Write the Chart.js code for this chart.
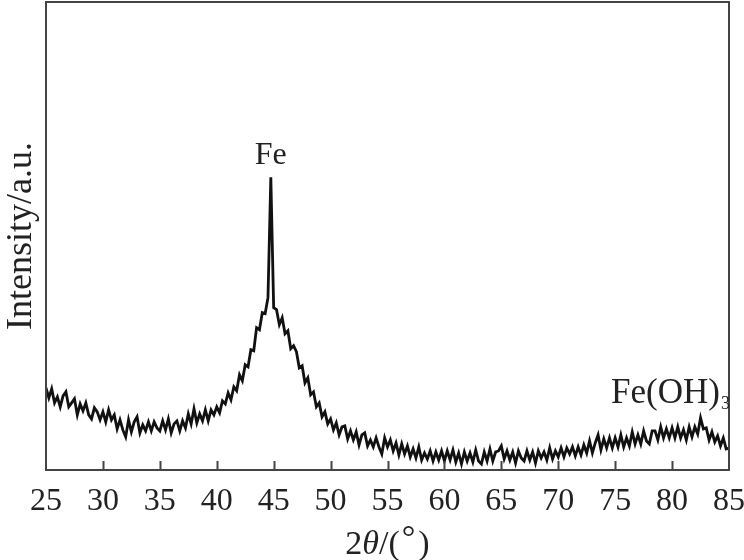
<!DOCTYPE html>
<html>
<head>
<meta charset="utf-8">
<script src="https://cdn.jsdelivr.net/npm/chart.js@4"></script>
<style>
  html, body { margin: 0; padding: 0; background: #fff; }
  #wrap { width: 744px; height: 560px; }
</style>
</head>
<body>
<div id="wrap"><canvas id="xrd"></canvas></div>
<script>
// 2theta positions (deg), 0.25 deg sampling
const twoTheta = [
  25,25.25,25.5,25.75,26,26.25,26.5,26.75,27,27.25,27.5,27.75,28,28.25,28.5,28.75,29,29.25,29.5,29.75,
  30,30.25,30.5,30.75,31,31.25,31.5,31.75,32,32.25,32.5,32.75,33,33.25,33.5,33.75,34,34.25,34.5,34.75,
  35,35.25,35.5,35.75,36,36.25,36.5,36.75,37,37.25,37.5,37.75,38,38.25,38.5,38.75,39,39.25,39.5,39.75,
  40,40.25,40.5,40.75,41,41.25,41.5,41.75,42,42.25,42.5,42.75,43,43.25,43.5,43.75,44,44.25,44.5,44.75,
  45,45.25,45.5,45.75,46,46.25,46.5,46.75,47,47.25,47.5,47.75,48,48.25,48.5,48.75,49,49.25,49.5,49.75,
  50,50.25,50.5,50.75,51,51.25,51.5,51.75,52,52.25,52.5,52.75,53,53.25,53.5,53.75,54,54.25,54.5,54.75,
  55,55.25,55.5,55.75,56,56.25,56.5,56.75,57,57.25,57.5,57.75,58,58.25,58.5,58.75,59,59.25,59.5,59.75,
  60,60.25,60.5,60.75,61,61.25,61.5,61.75,62,62.25,62.5,62.75,63,63.25,63.5,63.75,64,64.25,64.5,64.75,
  65,65.25,65.5,65.75,66,66.25,66.5,66.75,67,67.25,67.5,67.75,68,68.25,68.5,68.75,69,69.25,69.5,69.75,
  70,70.25,70.5,70.75,71,71.25,71.5,71.75,72,72.25,72.5,72.75,73,73.25,73.5,73.75,74,74.25,74.5,74.75,
  75,75.25,75.5,75.75,76,76.25,76.5,76.75,77,77.25,77.5,77.75,78,78.25,78.5,78.75,79,79.25,79.5,79.75,
  80,80.25,80.5,80.75,81,81.25,81.5,81.75,82,82.25,82.5,82.75,83,83.25,83.5,83.75,84,84.25,84.5,84.75,
  85
];

// intensity (a.u.)
const intensity = [
  82,72,81,67,73,63,74,78,63,67,71,55,66,59,67,55,51,62,58,50,
  58,48,60,50,55,41,50,40,33,50,38,48,53,37,45,39,48,39,48,42,
  39,49,40,51,37,46,49,39,49,42,56,46,61,47,56,49,60,49,60,55,
  63,57,69,66,77,70,83,79,95,89,105,103,120,119,142,140,157,156,172,292,
  162,160,145,152,136,139,121,124,118,102,104,87,92,75,78,63,67,53,58,46,
  51,40,47,35,43,44,31,39,30,38,25,35,37,24,30,23,32,23,16,32,
  23,30,19,27,15,26,16,24,13,21,12,23,10,17,11,19,9,18,10,19,
  9,19,10,20,8,17,6,18,9,17,8,20,9,6,18,9,21,9,18,19,
  24,11,19,10,18,7,19,12,9,19,10,18,7,19,12,18,10,22,11,19,
  13,22,13,22,16,23,14,23,15,25,17,29,17,27,35,20,31,22,32,22,
  32,23,35,23,32,24,38,26,35,26,39,29,26,39,39,30,43,32,41,32,
  42,32,43,32,40,30,43,33,43,36,52,41,42,30,38,28,34,24,32,21,
  22
];

const xTicks = [25, 30, 35, 40, 45, 50, 55, 60, 65, 70, 75, 80, 85];
const yRange = [0, 467];

const serif = "'Liberation Serif', 'DejaVu Serif', serif";

// frame, inward ticks, peak labels and the x title (with italic theta)
const decor = {
  id: "decor",
  afterDraw(chart) {
    const { ctx, chartArea: a, scales } = chart;
    const x = scales.x, y = scales.y;
    ctx.save();
    ctx.strokeStyle = "#444";
    ctx.lineWidth = 2;
    ctx.strokeRect(a.left, a.top, a.right - a.left, a.bottom - a.top);
    ctx.beginPath();
    xTicks.slice(1, -1).forEach((v) => {
      const px = Math.round(x.getPixelForValue(v)) + 0.5;
      ctx.moveTo(px, a.bottom);
      ctx.lineTo(px, a.bottom - 9);
    });
    ctx.stroke();

    ctx.fillStyle = "#222";
    ctx.font = "32px " + serif;
    ctx.textBaseline = "alphabetic";
    ctx.textAlign = "center";
    ctx.fillText("Fe", x.getPixelForValue(44.75), y.getPixelForValue(292) - 13);

    ctx.font = "35px " + serif;
    ctx.textAlign = "right";
    const fx = x.getPixelForValue(84.2);
    const fy = y.getPixelForValue(67);
    ctx.fillText("Fe(OH)", fx, fy);
    ctx.font = "18px " + serif;
    ctx.textAlign = "left";
    ctx.fillText("3", fx + 1, fy + 6);

    // x title: 2θ/(°)
    const size = "34px ";
    const parts = [
      ["2", size + serif],
      ["θ", "italic " + size + serif],
      ["/(", size + serif],
      ["°", size + serif],
      [")", size + serif],
    ];
    let w = 0;
    parts.forEach(([t, f]) => { ctx.font = f; w += ctx.measureText(t).width + (t === "°" ? 5 : 0); });
    let cx = (a.left + a.right) / 2 - w / 2;
    const by = 554;
    parts.forEach(([t, f]) => {
      ctx.font = f;
      ctx.fillText(t, cx + (t === "°" ? 2 : 0), t === "°" ? by - 6 : by);
      cx += ctx.measureText(t).width + (t === "°" ? 5 : 0);
    });
    ctx.restore();
  },
};

new Chart(document.getElementById("xrd"), {
  type: "line",
  data: {
    datasets: [
      {
        data: twoTheta.map((t, i) => ({ x: t, y: intensity[i] })),
        borderColor: "#111",
        borderWidth: 2.8,
        pointRadius: 0,
        tension: 0,
        fill: false,
      },
    ],
  },
  options: {
    responsive: true,
    maintainAspectRatio: false,
    animation: false,
    layout: { padding: { left: 0, right: 15, top: 2, bottom: 0 } },
    plugins: { legend: { display: false }, tooltip: { enabled: false } },
    events: [],
    scales: {
      x: {
        type: "linear",
        min: 25,
        max: 85,
        afterBuildTicks: (s) => { s.ticks = xTicks.map((v) => ({ value: v })); },
        afterFit: (s) => { s.height = 90; s.paddingLeft = 0; s.paddingRight = 0; },
        grid: { display: false, drawTicks: false },
        border: { display: false },
        ticks: {
          padding: 12,
          color: "#222",
          maxRotation: 0,
          autoSkip: false,
          font: { family: serif, size: 32 },
        },
      },
      y: {
        min: yRange[0],
        max: yRange[1],
        afterFit: (s) => { s.width = 46; s.paddingTop = 0; s.paddingBottom = 0; },
        grid: { display: false, drawTicks: false },
        border: { display: false },
        ticks: { display: false },
        title: {
          display: true,
          text: "Intensity/a.u.",
          color: "#222",
          padding: { top: 0, bottom: 0 },
          font: { family: serif, size: 36 },
        },
      },
    },
  },
  plugins: [decor],
});
</script>
</body>
</html>
